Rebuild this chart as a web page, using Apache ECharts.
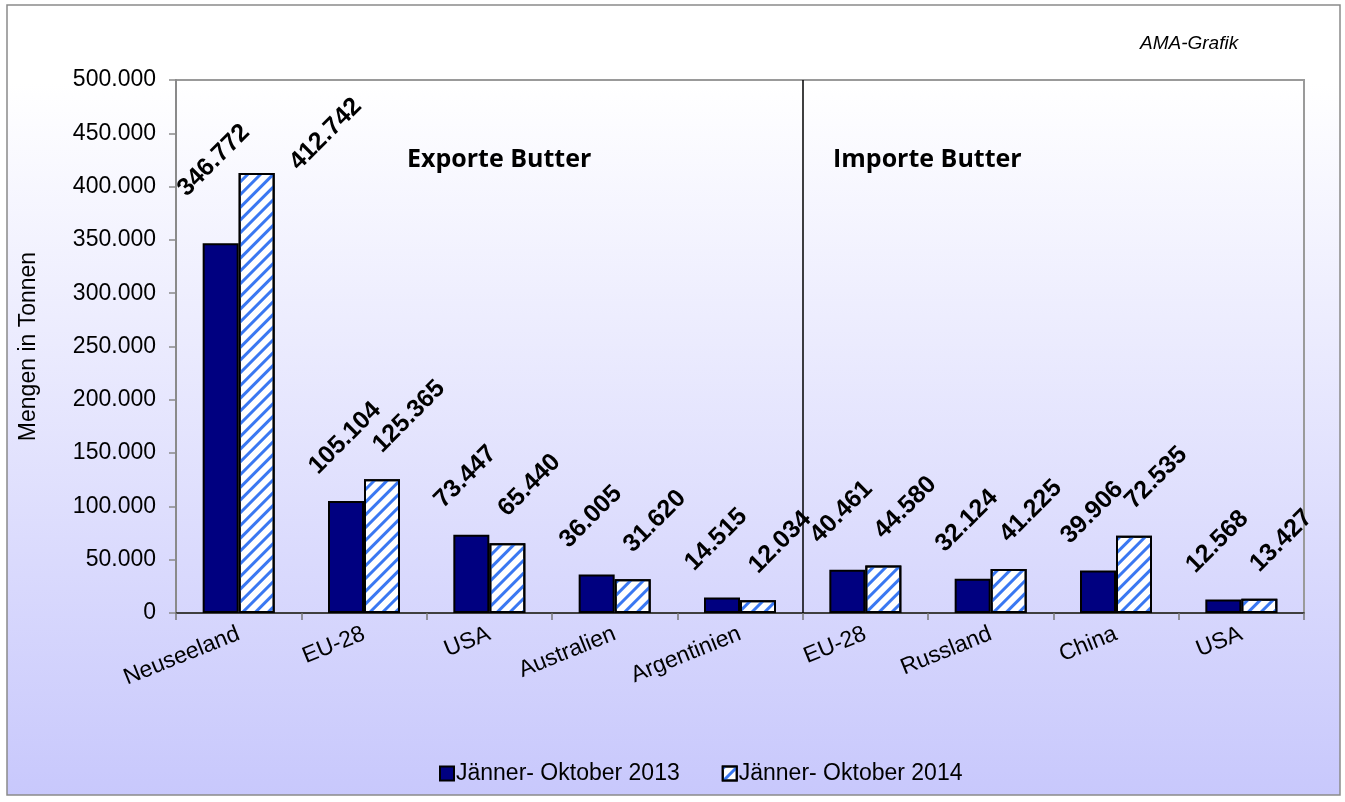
<!DOCTYPE html>
<html>
<head>
<meta charset="UTF-8">
<title>Butter Handel</title>
<script src="https://cdn.jsdelivr.net/npm/echarts@6/dist/echarts.min.js"></script>
<style>
  html, body { margin: 0; padding: 0; background: #fff; }
  #chart { width: 1345px; height: 802px; }
</style>
</head>
<body>
<div id="chart"></div>
<script>
// Daten (Tonnen)
var categories = ['Neuseeland', 'EU-28', 'USA', 'Australien', 'Argentinien', 'EU-28', 'Russland', 'China', 'USA'];
var values2013 = [346772, 105104, 73447, 36005, 14515, 40461, 32124, 39906, 12568];
var values2014 = [412742, 125365, 65440, 31620, 12034, 44580, 41225, 72535, 13427];
var seriesNames = ['Jänner- Oktober 2013', 'Jänner- Oktober 2014'];
var yTicks = { min: 0, max: 500000, interval: 50000 };
var splitIndex = 5; // Grenze Exporte / Importe

function fmt(v) {
  return String(v).replace(/\B(?=(\d{3})+(?!\d))/g, '.');
}

var chart = echarts.init(document.getElementById('chart'));
var ff = 'Arial, "Liberation Sans", sans-serif';

var labelBase = {
  show: true,
  rotate: 45,
  align: 'left',
  verticalAlign: 'bottom',
  fontFamily: ff,
  fontWeight: 'bold',
  fontSize: 25,
  color: '#000',
  formatter: function (p) { return fmt(p.value); }
};

// hohe Balken: Beschriftung wie im Excel-Original verschoben (oben kein Platz)
function barData(values, highPos) {
  return values.map(function (v) {
    if (v > 300000) {
      return { value: v, label: { position: highPos } };
    }
    return v;
  });
}

var option = {
  backgroundColor: '#ffffff',
  animation: false,
  graphic: [
    {
      type: 'rect',
      z: -10,
      silent: true,
      shape: { x: 7, y: 5, width: 1333, height: 790 },
      style: {
        fill: new echarts.graphic.LinearGradient(0, 0, 0, 1, [
          { offset: 0, color: '#ffffff' },
          { offset: 0.1, color: '#ffffff' },
          { offset: 1, color: '#c8c8fc' }
        ]),
        stroke: '#8a8a8a',
        lineWidth: 1.5
      }
    },
    {
      type: 'text',
      left: 1140,
      top: 34,
      style: { text: 'AMA-Grafik', font: 'italic 19px ' + ff, fill: '#000' }
    },
    {
      type: 'text',
      left: 407,
      top: 147,
      style: { text: 'Exporte Butter', font: 'bold 25px "Open Sans", sans-serif', fill: '#000' }
    },
    {
      type: 'text',
      left: 833,
      top: 147,
      style: { text: 'Importe Butter', font: 'bold 25px "Open Sans", sans-serif', fill: '#000' }
    }
  ],
  grid: {
    left: 176,
    right: 41,
    top: 80,
    bottom: 189,
    show: true,
    borderColor: '#9a9a9a',
    borderWidth: 2,
    backgroundColor: 'transparent'
  },
  legend: {
    data: seriesNames,
    left: 434,
    top: 757,
    itemWidth: 14,
    itemHeight: 14,
    itemGap: 42,
    icon: 'rect',
    textStyle: { fontFamily: ff, fontSize: 23, color: '#000', padding: [0, 0, 0, -3] }
  },
  xAxis: [
    {
      type: 'category',
      data: categories,
      boundaryGap: true,
      axisLine: { lineStyle: { color: '#222', width: 1.5 } },
      axisTick: { show: true, length: 7, lineStyle: { color: '#777', width: 1.5 } },
      axisLabel: {
        rotate: 22,
        margin: 20,
        interval: 0,
        fontFamily: ff,
        fontSize: 23,
        color: '#000'
      },
      splitLine: { show: false }
    },
    {
      type: 'value',
      min: 0,
      max: categories.length,
      show: false
    }
  ],
  yAxis: {
    type: 'value',
    min: yTicks.min,
    max: yTicks.max,
    interval: yTicks.interval,
    name: 'Mengen in Tonnen',
    nameLocation: 'middle',
    nameGap: 136,
    nameTextStyle: { fontFamily: ff, fontSize: 23, color: '#000' },
    axisLine: { show: true, lineStyle: { color: '#8a8a8a', width: 2 } },
    axisTick: { show: true, length: 7, lineStyle: { color: '#8a8a8a', width: 1.5 } },
    axisLabel: {
      margin: 20,
      fontFamily: ff,
      fontSize: 23,
      color: '#000',
      formatter: function (v) { return fmt(v); }
    },
    splitLine: { show: false }
  },
  series: [
    {
      name: seriesNames[0],
      type: 'bar',
      data: barData(values2013, [-12, -42]),
      barWidth: 36,
      barGap: '0%',
      itemStyle: { color: '#000080', borderColor: '#000', borderWidth: 2 },
      label: Object.assign({}, labelBase, { position: [-6, -22] })
    },
    {
      name: seriesNames[1],
      type: 'bar',
      data: barData(values2014, [64, 2]),
      barWidth: 36,
      barGap: '0%',
      itemStyle: {
        color: '#ffffff',
        borderColor: '#000',
        borderWidth: 2,
        decal: {
          symbol: 'rect',
          color: '#3a78f2',
          dashArrayX: [1, 0],
          dashArrayY: [3, 6],
          rotation: -Math.PI / 4
        }
      },
      label: Object.assign({}, labelBase, { position: [22, -22] })
    },
    {
      name: 'Trennlinie',
      type: 'line',
      xAxisIndex: 1,
      data: [],
      markLine: {
        silent: true,
        symbol: 'none',
        label: { show: false },
        lineStyle: { color: '#000', width: 1.5, type: 'solid' },
        data: [{ xAxis: splitIndex }]
      }
    }
  ]
};

chart.setOption(option);
</script>
</body>
</html>
